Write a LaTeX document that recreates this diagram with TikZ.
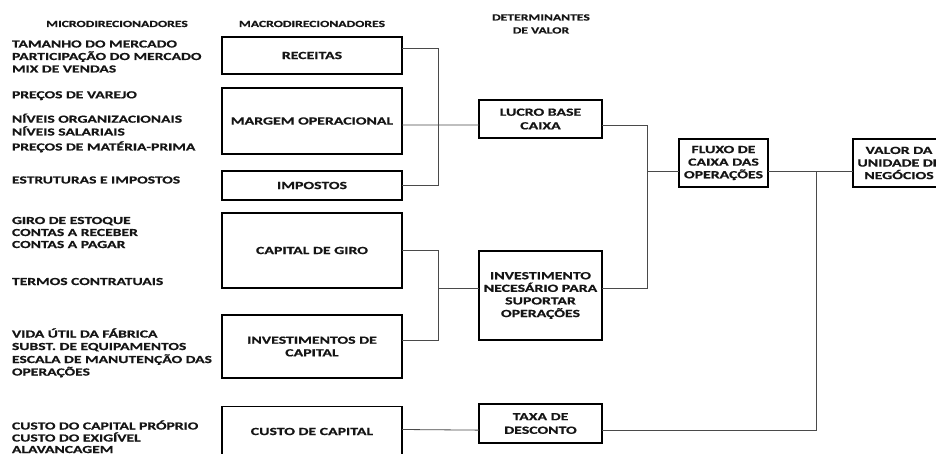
\documentclass[tikz,border=0pt]{standalone}
\usepackage{fontspec}
\newfontfamily\labelfont{Carlito Bold}[FakeStretch=1.45, FakeBold=0.6]
\usetikzlibrary{calc}
\definecolor{wirecol}{HTML}{4A4A4A}
\definecolor{inkcol}{HTML}{151515}
\begin{document}
\begin{tikzpicture}[x=1pt,y=-1pt,
  every node/.style={font=\labelfont\fontsize{10.9}{12.6}\selectfont, text=inkcol, inner sep=0pt, outer sep=0pt},
  box/.style={draw=black, line width=1.4pt, align=center},
  side/.style={draw=black, line width=2.8pt},
  wire/.style={draw=wirecol, line width=0.8pt},
  micro/.style={anchor=base west, font=\labelfont\fontsize{10.75}{12.6}\selectfont},
  head/.style={anchor=base, align=center, font=\labelfont\fontsize{9.4}{12}\selectfont}]
\fill[white] (0,0) rectangle (936,454);
\useasboundingbox (0,0) rectangle (936,454);
\clip (0,0) rectangle (936,454);

% column headings
\node[head] (hmicro) at (117,27) {MICRODIRECIONADORES};
\node[head] (hmacro) at (312,27) {MACRODIRECIONADORES};
\node[head] (hdet1) at (541,20.5) {DETERMINANTES};
\node[head] (hdet2) at (541,33.5) {DE VALOR};

% micro drivers
\node[micro] (m1) at (12,47.5) {TAMANHO DO MERCADO};
\node[micro] (m2) at (12,60) {PARTICIPAÇÃO DO MERCADO};
\node[micro] (m3) at (12,72.5) {MIX DE VENDAS};
\node[micro] (m4) at (12,98.3) {PREÇOS DE VAREJO};
\node[micro] (m5) at (12,122.7) {NÍVEIS ORGANIZACIONAIS};
\node[micro] (m6) at (12,135.5) {NÍVEIS SALARIAIS};
\node[micro] (m7) at (12,150.5) {PREÇOS DE MATÉRIA-PRIMA};
\node[micro] (m8) at (12,183.5) {ESTRUTURAS E IMPOSTOS};
\node[micro] (m9) at (12,224) {GIRO DE ESTOQUE};
\node[micro] (m10) at (12,236) {CONTAS A RECEBER};
\node[micro] (m11) at (12,248) {CONTAS A PAGAR};
\node[micro] (m12) at (12,285) {TERMOS CONTRATUAIS};
\node[micro] (m13) at (12,337.5) {VIDA ÚTIL DA FÁBRICA};
\node[micro] (m14) at (12,350) {SUBST. DE EQUIPAMENTOS};
\node[micro] (m15) at (12,363) {ESCALA DE MANUTENÇÃO DAS};
\node[micro] (m16) at (12,375.5) {OPERAÇÕES};
\node[micro] (m17) at (12,429.5) {CUSTO DO CAPITAL PRÓPRIO};
\node[micro] (m18) at (12,441.5) {CUSTO DO EXIGÍVEL};
\node[micro] (m19) at (12,453) {ALAVANCAGEM};

% macro drivers
\node[box, minimum width=180pt, minimum height=37pt] (rec) at (312,55.5) {RECEITAS};
\node[box, minimum width=180pt, minimum height=66pt] (mar) at (312,121) {MARGEM OPERACIONAL};
\node[box, minimum width=180pt, minimum height=29pt] (imp) at (312,185.5) {IMPOSTOS};
\node[box, minimum width=180pt, minimum height=75pt] (gir) at (312,250.5) {CAPITAL DE GIRO};
\node[box, minimum width=180pt, minimum height=63pt] (icap) at (312,346.5) {INVESTIMENTOS DE\\CAPITAL};
\node[box, minimum width=180pt, minimum height=50pt] (cus) at (312,431.5) {CUSTO DE CAPITAL};

% value determinants
\node[box, minimum width=123pt, minimum height=38pt] (luc) at (540.5,119) {LUCRO BASE\\[1pt]CAIXA};
\node[box, minimum width=123pt, minimum height=89pt] (inv) at (540.5,295.5) {INVESTIMENTO\\NECESÁRIO PARA\\SUPORTAR\\OPERAÇÕES};
\node[box, minimum width=123pt, minimum height=39pt] (tax) at (540.5,423.5) {TAXA DE\\[1pt]DESCONTO};
\node[box, minimum width=89pt, minimum height=48pt] (flu) at (723.5,163) {FLUXO DE\\CAIXA DAS\\OPERAÇÕES};
\node[box, minimum width=92pt, minimum height=48pt] (val) at (899,163) {VALOR DA\\UNIDADE DE\\NEGÓCIOS};

% heavier vertical edges of the boxes
\foreach \n in {rec,mar,imp,gir,icap,cus,luc,inv,tax,flu,val}
  \draw[side] (\n.north west) -- (\n.south west) (\n.north east) -- (\n.south east);

% bus columns
\coordinate (busA) at (438,0);
\coordinate (busB) at (647,0);
\coordinate (busC) at (816,0);

% attachment points on the box sides
\coordinate (recR) at ($(rec.north east)!0.32!(rec.south east)$);
\coordinate (marR) at ($(mar.north east)!0.56!(mar.south east)$);
\coordinate (impR) at (imp.east);
\coordinate (girR) at (gir.east);
\coordinate (icapR) at ($(icap.north east)!0.41!(icap.south east)$);
\coordinate (cusR) at ($(cus.north east)!0.46!(cus.south east)$);
\coordinate (lucL) at ($(luc.north west)!0.66!(luc.south west)$);
\coordinate (lucR) at ($(luc.north east)!0.66!(luc.south east)$);
\coordinate (invL) at ($(inv.north west)!0.42!(inv.south west)$);
\coordinate (invR) at ($(inv.north east)!0.42!(inv.south east)$);
\coordinate (taxL) at ($(tax.north west)!0.67!(tax.south west)$);
\coordinate (taxR) at ($(tax.north east)!0.67!(tax.south east)$);
\coordinate (fluL) at ($(flu.north west)!0.67!(flu.south west)$);
\coordinate (fluR) at ($(flu.north east)!0.67!(flu.south east)$);
\coordinate (valL) at ($(val.north west)!0.67!(val.south west)$);

% connectors
\draw[wire] (recR) -| (busA |- impR) -- (impR);
\draw[wire] (marR) -- (lucL);
\draw[wire] (girR) -| (busA |- icapR) -- (icapR);
\draw[wire] (busA |- invL) -- (invL);
\draw[wire] (cusR) -- (taxL);
\draw[wire] (lucR) -| (busB |- invR) -- (invR);
\draw[wire] (busB |- fluL) -- (fluL);
\draw[wire] (fluR) -- (valL);
\draw[wire] (busC |- fluR) -- (busC |- taxR) -- (taxR);
\end{tikzpicture}
\end{document}
